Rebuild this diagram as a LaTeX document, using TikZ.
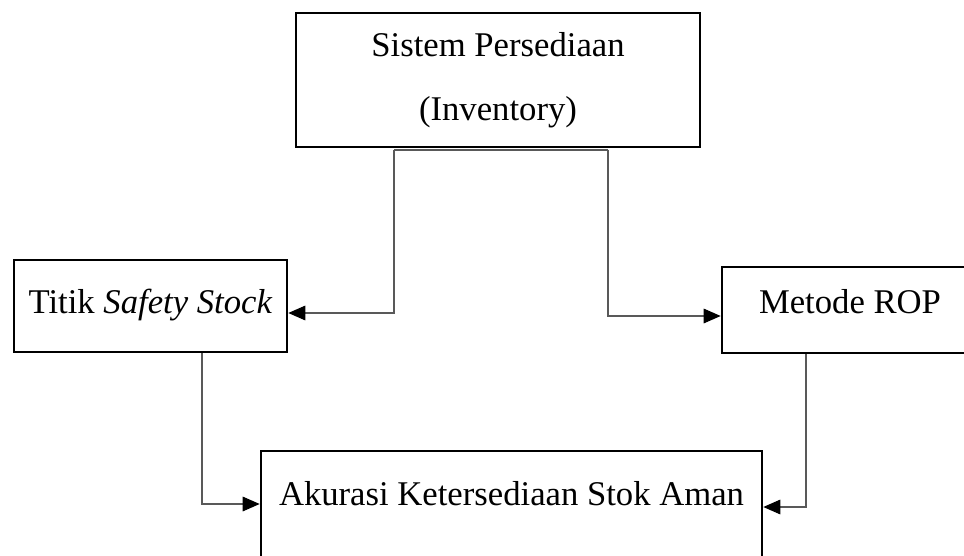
\documentclass[tikz,border=0pt]{standalone}
\usepackage{fontspec}
\setmainfont{Liberation Serif}
\usetikzlibrary{arrows.meta}
\tikzset{
  box/.style={draw=black, line width=2pt, inner sep=0pt, fill=white,
    font=\fontsize{26}{48}\selectfont, text height=18pt},
  conn/.style={draw=black!65, line width=0.8pt,
    -{Triangle[length=12.75pt,width=11pt,fill=black,color=black]}},
  plain/.style={draw=black!65, line width=0.8pt}
}
\begin{document}
\begin{tikzpicture}[x=0.75pt,y=-0.75pt]
\clip (0,0) rectangle (964,556);
\fill[white] (0,0) rectangle (964,556);
\node[box, align=center, text height=, minimum width=303pt, minimum height=100.5pt] (top) at (498,80) {Sistem Persediaan\\(Inventory)};
\node[box, text depth=7.5pt, minimum width=204.75pt, minimum height=69pt] (titik) at (150.5,306) {Titik \textit{Safety Stock}};
\node[box, text depth=13.5pt, minimum width=192pt, minimum height=64.5pt] (metode) at (850,310) {Metode ROP};
\node[box, text depth=19.5pt, minimum width=375.75pt, minimum height=82.5pt] (akurasi) at (511.5,506) {Akurasi Ketersediaan Stok Aman};
\coordinate (j1) at (394,150);
\coordinate (j2) at (608,150);
\draw[plain] (top.south |- j1) -- (j1);
\draw[conn] (j1) |- ([yshift=-5.25pt]titik.east);
\draw[plain] (top.south |- j2) -- (j2);
\draw[conn] (j2) |- ([yshift=-4.5pt]metode.west);
\draw[conn] ([xshift=38.6pt]titik.south) |- ([yshift=1.5pt]akurasi.west);
\draw[conn] ([xshift=-33pt]metode.south) |- ([yshift=-0.75pt]akurasi.east);
\end{tikzpicture}
\end{document}
